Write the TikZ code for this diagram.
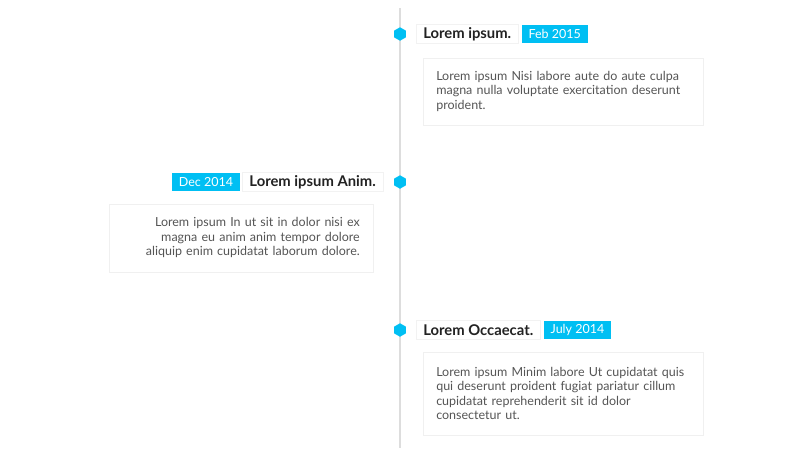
\documentclass[tikz,border=0pt]{standalone}
\usepackage{fontspec}
\setmainfont{Lato}
\usepackage{xcolor}
\usepackage{tikz}
\usetikzlibrary{positioning,shapes.geometric,calc}
\definecolor{tlcyan}{RGB}{0,191,243}
\definecolor{tlline}{RGB}{221,221,221}
\definecolor{tltext}{RGB}{85,85,85}
\definecolor{tltitle}{RGB}{34,34,34}
\tikzset{
    hexmark/.style={
        regular polygon,
        regular polygon sides=6,
        shape border rotate=30,
        fill=tlcyan,
        inner sep=0pt,
        minimum size=13.5pt
    },
    titlebox/.style={
        rectangle,
        fill=white,
        draw=black!5,
        text=tltitle,
        font=\fontsize{14.8}{17}\selectfont\bfseries,
        inner xsep=7pt,
        inner ysep=0pt,
        minimum height=19pt
    },
    datetag/.style={
        rectangle,
        fill=tlcyan,
        text=white,
        font=\fontsize{12.5}{14}\selectfont,
        inner xsep=7pt,
        inner ysep=0pt,
        minimum height=18pt
    }
}
\tikzstyle{contentbox} = [rectangle, fill=white, draw=black!6, text=tltext, font=\fontsize{12.5}{14.5}\selectfont, inner xsep=13pt, inner ysep=11pt]

\begin{document}
\begin{tikzpicture}[x=1pt,y=-1pt]
          \useasboundingbox (0,0) rectangle (800,450);
          \draw [tlline, line width=2pt] (400,8) -- (400,448);
          \node (mark1) [hexmark] at (400,34) {};
          \node (mark2) [hexmark] at (400,182) {};
          \node (mark3) [hexmark] at (400,330) {};
          \node (title1) [titlebox, right=10pt of mark1] {Lorem ipsum.};
          \node (date1) [datetag, right=3pt of title1] {Feb 2015};
          \node (text1) [contentbox, text width=254pt, minimum height=67pt, align=left, below right=14pt and 7pt of title1.south west] {Lorem ipsum Nisi labore aute do aute culpa\\magna nulla voluptate exercitation deserunt\\proident.};
          \node (title2) [titlebox, left=11pt of mark2] {Lorem ipsum Anim.};
          \node (date2) [datetag, left=2pt of title2] {Dec 2014};
          \node (text2) [contentbox, text width=238pt, minimum height=68pt, align=right, below left=12pt and 10pt of title2.south east] {Lorem ipsum In ut sit in dolor nisi ex\\magna eu anim anim tempor dolore\\aliquip enim cupidatat laborum dolore.};
          \node (title3) [titlebox, right=10pt of mark3] {Lorem Occaecat.};
          \node (date3) [datetag, right=3pt of title3] {July 2014};
          \node (text3) [contentbox, text width=254pt, minimum height=83pt, align=left, below right=12pt and 7pt of title3.south west] {Lorem ipsum Minim labore Ut cupidatat quis\\qui deserunt proident fugiat pariatur cillum\\cupidatat reprehenderit sit id dolor\\consectetur ut.};
        \end{tikzpicture}
\end{document}
